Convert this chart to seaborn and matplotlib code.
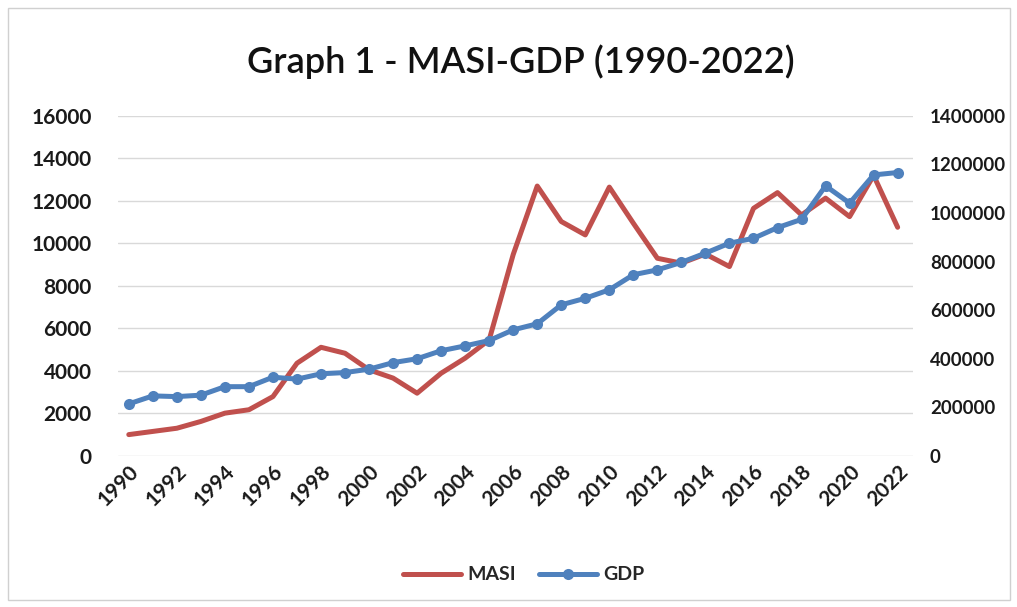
import numpy as np
import pandas as pd
import matplotlib
matplotlib.use('Agg')
import matplotlib.pyplot as plt
import seaborn as sns
from matplotlib.lines import Line2D
from matplotlib.patches import Rectangle
from matplotlib.ticker import StrMethodFormatter

years = list(range(1990, 2023))
masi = [1000, 1150, 1300, 1620, 2010, 2170, 2790, 4360, 5110, 4830,
        4050, 3660, 2950, 3890, 4600, 5460, 9480, 12700, 11030, 10400,
        12650, 10950, 9300, 9070, 9500, 8910, 11650, 12390, 11340, 12130,
        11260, 13200, 10760]
gdp = [214000, 247000, 244000, 250000, 285000, 285000, 324000, 316000, 338000, 343000,
       357000, 384000, 400000, 433000, 453000, 475000, 519000, 544000, 622000, 649000,
       684000, 746000, 766000, 797000, 835000, 876000, 896000, 940000, 974000, 1112000,
       1041000, 1157000, 1167000]

df = pd.DataFrame({'year': years, 'MASI': masi, 'GDP': gdp})

red = '#C0504D'
blue = '#4F81BD'

sns.set_theme(style='white')
plt.rcParams['font.family'] = ['Lato', 'DejaVu Sans']

fig = plt.figure(figsize=(10.17, 6.07), dpi=100)
ax = fig.add_axes([0.116, 0.249, 0.782, 0.560])
ax2 = ax.twinx()

sns.lineplot(data=df, x='year', y='MASI', ax=ax, color=red, linewidth=3.6, legend=False)
sns.lineplot(data=df, x='year', y='GDP', ax=ax2, color=blue, linewidth=3.6,
             marker='o', markersize=8, markeredgewidth=0, legend=False)

ax.set_xlim(1989.55, 2022.65)
ax.set_ylim(0, 16000)
ax2.set_ylim(0, 1400000)
ax.set_yticks(range(0, 16001, 2000))
ax2.set_yticks(range(0, 1400001, 200000))
ax2.yaxis.set_major_formatter(StrMethodFormatter('{x:.0f}'))
ax.set_xticks(years[::2])

ax.yaxis.grid(True, color='#D9D9D9', linewidth=1)
ax.xaxis.grid(False)
ax2.grid(False)
for a in (ax, ax2):
    for s in a.spines.values():
        s.set_visible(False)
    a.set_xlabel('')
    a.set_ylabel('')

ax.tick_params(axis='y', length=0, pad=19, labelsize=15)
ax2.tick_params(axis='y', length=0, pad=12, labelsize=13.5)
ax.tick_params(axis='x', length=0, pad=4, labelsize=15)
for lab in ax.get_yticklabels() + ax2.get_yticklabels() + ax.get_xticklabels():
    lab.set_fontweight('bold')
    lab.set_color('#1a1a1a')
plt.setp(ax.get_xticklabels(), rotation=45, ha='right', rotation_mode='anchor')

fig.text(0.512, 0.898, 'Graph 1 - MASI-GDP (1990-2022)', ha='center', va='center',
         fontsize=26, fontweight='semibold', color='#111111')

handles = [Line2D([], [], color=red, linewidth=3.6),
           Line2D([], [], color=blue, linewidth=3.6, marker='o', markersize=8, markeredgewidth=0)]
leg = fig.legend(handles, ['MASI', 'GDP'], loc='center', bbox_to_anchor=(0.515, 0.053),
                 ncol=2, frameon=False, handlelength=3.0, columnspacing=1.2, handletextpad=0.3,
                 prop={'weight': 'bold', 'size': 14})

fig.patches.append(Rectangle((0.008, 0.012), 0.985, 0.975, transform=fig.transFigure,
                             fill=False, edgecolor='#D0D0D0', linewidth=1))

fig.savefig('out.png', dpi=100)
